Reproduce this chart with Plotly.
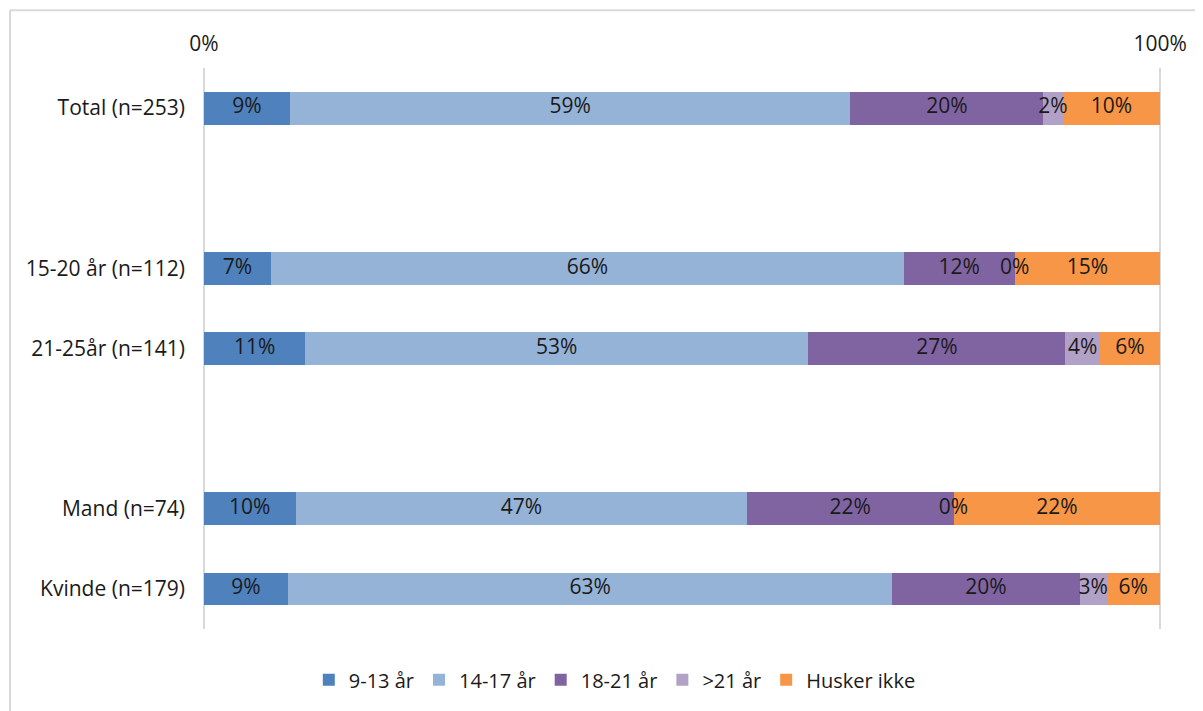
import plotly.graph_objects as go

categories = ["Total (n=253)", "15-20 år (n=112)", "21-25år (n=141)", "Mand (n=74)", "Kvinde (n=179)"]
axis_order = ["Total (n=253)", " ", "15-20 år (n=112)", "21-25år (n=141)", "  ", "Mand (n=74)", "Kvinde (n=179)"]

series_names = ["9-13 år", "14-17 år", "18-21 år", ">21 år", "Husker ikke"]
v_9_13 = [9.0, 7.0, 10.6, 9.6, 8.8]
v_14_17 = [58.6, 66.2, 52.6, 47.2, 63.2]
v_18_21 = [20.2, 11.6, 26.9, 21.6, 19.6]
v_21p = [2.0, 0.0, 3.6, 0.0, 2.8]
v_husker = [10.2, 15.2, 6.3, 21.6, 5.6]
series_values = [v_9_13, v_14_17, v_18_21, v_21p, v_husker]
colors = ["#4F81BD", "#95B3D7", "#8064A2", "#B2A1C7", "#F79646"]

tick_vals = [0, 100]
tick_text = ["0%", "100%"]

FONT = "Open Sans"
TXT = "#1a1a1a"
fig = go.Figure()

for name, vals, col in zip(series_names, series_values, colors):
    fig.add_trace(go.Bar(
        y=categories, x=vals, name=name, orientation="h",
        marker=dict(color=col, line=dict(width=0)),
        width=0.41,
    ))

# data labels at segment centres
lab_x, lab_y, lab_t = [], [], []
for i, cat in enumerate(categories):
    cum = 0.0
    for vals in series_values:
        v = vals[i]
        lab_x.append(cum + v / 2)
        lab_y.append(cat)
        lab_t.append(f"{v:.0f}%")
        cum += v
fig.add_trace(go.Scatter(
    x=lab_x, y=lab_y, text=lab_t, mode="text", showlegend=False,
    textfont=dict(family=FONT, size=21, color=TXT),
    cliponaxis=False, hoverinfo="skip",
))

fig.update_layout(
    barmode="stack",
    width=1195, height=703,
    margin=dict(l=194, r=41, t=60, b=79),
    paper_bgcolor="white", plot_bgcolor="white",
    font=dict(family=FONT, size=21, color=TXT),
    showlegend=True,
    legend=dict(orientation="h", x=0.43, xanchor="center", y=-0.0904, yanchor="middle",
                font=dict(family=FONT, size=20, color=TXT),
                traceorder="normal", itemwidth=30),
    xaxis=dict(range=[-0.2, 100.2], side="top", tickvals=tick_vals, ticktext=tick_text,
               showgrid=True, gridcolor="#d9d9d9", gridwidth=2, zeroline=False,
               showline=False, ticks="", ticklabelstandoff=12,
               tickfont=dict(family=FONT, size=21, color=TXT), fixedrange=True),
    yaxis=dict(categoryorder="array", categoryarray=axis_order, autorange="reversed",
               showgrid=False, zeroline=False, showline=False, ticks="",
               ticklabelstandoff=16,
               tickfont=dict(family=FONT, size=21, color=TXT)),
    shapes=[
        dict(type="line", xref="paper", yref="paper", x0=-0.2, x1=-0.2, y0=-0.2, y1=1.1028,
             line=dict(color="#d9d9d9", width=2)),
        dict(type="line", xref="paper", yref="paper", x0=-0.2, x1=1.1, y0=1.1028, y1=1.1028,
             line=dict(color="#d9d9d9", width=2)),
    ],
)

fig.write_html("out.html")
